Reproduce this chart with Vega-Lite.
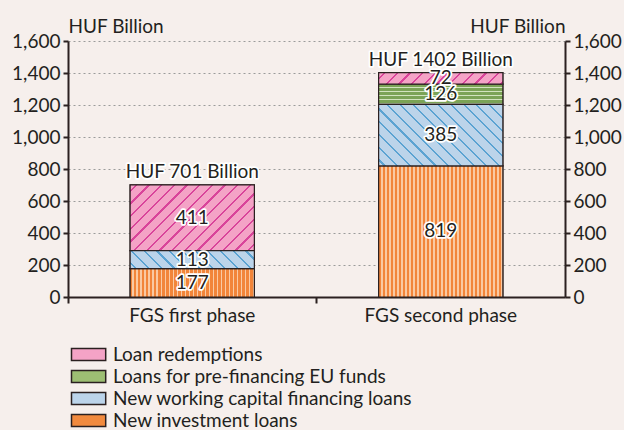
{
  "$schema": "https://vega.github.io/schema/vega-lite/v6.json",
  "width": 497,
  "height": 256,
  "autosize": "none",
  "padding": {"left": 68, "top": 41, "right": 59, "bottom": 133},
  "background": "#F6EFEC",
  "config": {
    "font": "Lato",
    "view": {"stroke": null},
    "axis": {
      "domainColor": "#2b2020",
      "domainWidth": 2,
      "tickColor": "#2b2020",
      "tickWidth": 2,
      "labelColor": "#231f20",
      "labelFontSize": 19,
      "labelFont": "Lato",
      "labelOverlap": false,
      "titleFont": "Lato",
      "titleFontSize": 19,
      "titleFontWeight": "normal",
      "titleColor": "#231f20"
    },
    "axisY": {
      "tickCount": 8,
      "format": ",d",
      "tickSize": 5,
      "labelPadding": 3,
      "labelOverlap": false,
      "titleAngle": 0,
      "titleBaseline": "bottom",
      "titleX": 0,
      "titleY": -5
    },
    "axisLeft": {
      "grid": true,
      "gridColor": "#9b9b9b",
      "gridDash": [2, 3],
      "gridWidth": 1,
      "titleAlign": "left"
    },
    "axisRight": {
      "grid": false,
      "titleAlign": "right"
    }
  },
  "datasets": {
    "segments": [
      {"phase": "FGS first phase", "category": "New investment loans", "value": 177, "order": 1},
      {"phase": "FGS first phase", "category": "New working capital financing loans", "value": 113, "order": 2},
      {"phase": "FGS first phase", "category": "Loan redemptions", "value": 411, "order": 4},
      {"phase": "FGS second phase", "category": "New investment loans", "value": 819, "order": 1},
      {"phase": "FGS second phase", "category": "New working capital financing loans", "value": 385, "order": 2},
      {"phase": "FGS second phase", "category": "Loans for pre-financing EU funds", "value": 126, "order": 3},
      {"phase": "FGS second phase", "category": "Loan redemptions", "value": 72, "order": 4}
    ],
    "totals": [
      {"phase": "FGS first phase", "total": 701, "label": "HUF 701 Billion"},
      {"phase": "FGS second phase", "total": 1402, "label": "HUF 1402 Billion"}
    ]
  },
  "layer": [
    {
      "data": {"name": "segments"},
      "transform": [
        {"stack": "value", "groupby": ["phase"], "sort": [{"field": "order"}], "as": ["v0", "v1"]},
        {"calculate": "(datum.v0 + datum.v1) / 2", "as": "mid"}
      ],
      "encoding": {
        "x": {
          "field": "phase",
          "type": "nominal",
          "scale": {"paddingInner": 0.5, "paddingOuter": 0.25},
          "axis": {
            "title": null,
            "labelAngle": 0,
            "bandPosition": -0.5,
            "tickSize": 6,
            "labelPadding": 3,
            "grid": false
          }
        }
      },
      "layer": [
        {
          "mark": {"type": "bar", "stroke": "#2b2020", "strokeWidth": 1.2},
          "encoding": {
            "y": {
              "field": "v0",
              "type": "quantitative",
              "scale": {"domain": [0, 1600], "nice": false},
              "axis": {"orient": "left", "title": "HUF Billion"}
            },
            "y2": {"field": "v1"},
            "color": {
              "field": "category",
              "type": "nominal",
              "scale": {
                "domain": ["Loan redemptions", "Loans for pre-financing EU funds", "New working capital financing loans", "New investment loans"],
                "range": ["#F4A3C6", "#9DBE73", "#BCD4EA", "#F28A3E"]
              },
              "legend": {
                "orient": "none",
                "legendX": 0,
                "legendY": 304,
                "title": null,
                "padding": 0,
                "symbolType": "M-1,-1H4.7V1H-1Z",
                "symbolSize": 144,
                "symbolStrokeColor": "#2b2020",
                "symbolStrokeWidth": 1.5,
                "symbolOpacity": 1,
                "labelFontSize": 19,
                "labelFont": "Lato",
                "labelColor": "#231f20",
                "labelOffset": 26,
                "rowPadding": 2,
                "labelLimit": 450
              }
            }
          }
        },
        {
          "transform": [{"filter": "datum.category === 'New investment loans'"}],
          "mark": {"type": "bar", "stroke": "#2b2020", "strokeWidth": 1.2, "fill": {"gradient": "linear", "x1": 0, "y1": 0, "x2": 1, "y2": 0, "stops": [
            {"offset": 0, "color": "#F2853A"}, {"offset": 0.0187, "color": "#F2853A"}, {"offset": 0.0187, "color": "#FAC9A2"}, {"offset": 0.0323, "color": "#FAC9A2"},
            {"offset": 0.0323, "color": "#F2853A"}, {"offset": 0.0510, "color": "#F2853A"}, {"offset": 0.0510, "color": "#FAC9A2"}, {"offset": 0.0645, "color": "#FAC9A2"},
            {"offset": 0.0645, "color": "#F2853A"}, {"offset": 0.0832, "color": "#F2853A"}, {"offset": 0.0832, "color": "#FAC9A2"}, {"offset": 0.0968, "color": "#FAC9A2"},
            {"offset": 0.0968, "color": "#F2853A"}, {"offset": 0.1155, "color": "#F2853A"}, {"offset": 0.1155, "color": "#FAC9A2"}, {"offset": 0.1290, "color": "#FAC9A2"},
            {"offset": 0.1290, "color": "#F2853A"}, {"offset": 0.1477, "color": "#F2853A"}, {"offset": 0.1477, "color": "#FAC9A2"}, {"offset": 0.1613, "color": "#FAC9A2"},
            {"offset": 0.1613, "color": "#F2853A"}, {"offset": 0.1800, "color": "#F2853A"}, {"offset": 0.1800, "color": "#FAC9A2"}, {"offset": 0.1935, "color": "#FAC9A2"},
            {"offset": 0.1935, "color": "#F2853A"}, {"offset": 0.2122, "color": "#F2853A"}, {"offset": 0.2122, "color": "#FAC9A2"}, {"offset": 0.2258, "color": "#FAC9A2"},
            {"offset": 0.2258, "color": "#F2853A"}, {"offset": 0.2445, "color": "#F2853A"}, {"offset": 0.2445, "color": "#FAC9A2"}, {"offset": 0.2581, "color": "#FAC9A2"},
            {"offset": 0.2581, "color": "#F2853A"}, {"offset": 0.2768, "color": "#F2853A"}, {"offset": 0.2768, "color": "#FAC9A2"}, {"offset": 0.2903, "color": "#FAC9A2"},
            {"offset": 0.2903, "color": "#F2853A"}, {"offset": 0.3090, "color": "#F2853A"}, {"offset": 0.3090, "color": "#FAC9A2"}, {"offset": 0.3226, "color": "#FAC9A2"},
            {"offset": 0.3226, "color": "#F2853A"}, {"offset": 0.3413, "color": "#F2853A"}, {"offset": 0.3413, "color": "#FAC9A2"}, {"offset": 0.3548, "color": "#FAC9A2"},
            {"offset": 0.3548, "color": "#F2853A"}, {"offset": 0.3735, "color": "#F2853A"}, {"offset": 0.3735, "color": "#FAC9A2"}, {"offset": 0.3871, "color": "#FAC9A2"},
            {"offset": 0.3871, "color": "#F2853A"}, {"offset": 0.4058, "color": "#F2853A"}, {"offset": 0.4058, "color": "#FAC9A2"}, {"offset": 0.4194, "color": "#FAC9A2"},
            {"offset": 0.4194, "color": "#F2853A"}, {"offset": 0.4381, "color": "#F2853A"}, {"offset": 0.4381, "color": "#FAC9A2"}, {"offset": 0.4516, "color": "#FAC9A2"},
            {"offset": 0.4516, "color": "#F2853A"}, {"offset": 0.4703, "color": "#F2853A"}, {"offset": 0.4703, "color": "#FAC9A2"}, {"offset": 0.4839, "color": "#FAC9A2"},
            {"offset": 0.4839, "color": "#F2853A"}, {"offset": 0.5026, "color": "#F2853A"}, {"offset": 0.5026, "color": "#FAC9A2"}, {"offset": 0.5161, "color": "#FAC9A2"},
            {"offset": 0.5161, "color": "#F2853A"}, {"offset": 0.5348, "color": "#F2853A"}, {"offset": 0.5348, "color": "#FAC9A2"}, {"offset": 0.5484, "color": "#FAC9A2"},
            {"offset": 0.5484, "color": "#F2853A"}, {"offset": 0.5671, "color": "#F2853A"}, {"offset": 0.5671, "color": "#FAC9A2"}, {"offset": 0.5806, "color": "#FAC9A2"},
            {"offset": 0.5806, "color": "#F2853A"}, {"offset": 0.5993, "color": "#F2853A"}, {"offset": 0.5993, "color": "#FAC9A2"}, {"offset": 0.6129, "color": "#FAC9A2"},
            {"offset": 0.6129, "color": "#F2853A"}, {"offset": 0.6316, "color": "#F2853A"}, {"offset": 0.6316, "color": "#FAC9A2"}, {"offset": 0.6452, "color": "#FAC9A2"},
            {"offset": 0.6452, "color": "#F2853A"}, {"offset": 0.6639, "color": "#F2853A"}, {"offset": 0.6639, "color": "#FAC9A2"}, {"offset": 0.6774, "color": "#FAC9A2"},
            {"offset": 0.6774, "color": "#F2853A"}, {"offset": 0.6961, "color": "#F2853A"}, {"offset": 0.6961, "color": "#FAC9A2"}, {"offset": 0.7097, "color": "#FAC9A2"},
            {"offset": 0.7097, "color": "#F2853A"}, {"offset": 0.7284, "color": "#F2853A"}, {"offset": 0.7284, "color": "#FAC9A2"}, {"offset": 0.7419, "color": "#FAC9A2"},
            {"offset": 0.7419, "color": "#F2853A"}, {"offset": 0.7606, "color": "#F2853A"}, {"offset": 0.7606, "color": "#FAC9A2"}, {"offset": 0.7742, "color": "#FAC9A2"},
            {"offset": 0.7742, "color": "#F2853A"}, {"offset": 0.7929, "color": "#F2853A"}, {"offset": 0.7929, "color": "#FAC9A2"}, {"offset": 0.8065, "color": "#FAC9A2"},
            {"offset": 0.8065, "color": "#F2853A"}, {"offset": 0.8252, "color": "#F2853A"}, {"offset": 0.8252, "color": "#FAC9A2"}, {"offset": 0.8387, "color": "#FAC9A2"},
            {"offset": 0.8387, "color": "#F2853A"}, {"offset": 0.8574, "color": "#F2853A"}, {"offset": 0.8574, "color": "#FAC9A2"}, {"offset": 0.8710, "color": "#FAC9A2"},
            {"offset": 0.8710, "color": "#F2853A"}, {"offset": 0.8897, "color": "#F2853A"}, {"offset": 0.8897, "color": "#FAC9A2"}, {"offset": 0.9032, "color": "#FAC9A2"},
            {"offset": 0.9032, "color": "#F2853A"}, {"offset": 0.9219, "color": "#F2853A"}, {"offset": 0.9219, "color": "#FAC9A2"}, {"offset": 0.9355, "color": "#FAC9A2"},
            {"offset": 0.9355, "color": "#F2853A"}, {"offset": 0.9542, "color": "#F2853A"}, {"offset": 0.9542, "color": "#FAC9A2"}, {"offset": 0.9677, "color": "#FAC9A2"},
            {"offset": 0.9677, "color": "#F2853A"}, {"offset": 0.9864, "color": "#F2853A"}, {"offset": 0.9864, "color": "#FAC9A2"}, {"offset": 1, "color": "#FAC9A2"}
          ]}},
          "encoding": {"y": {"field": "v0", "type": "quantitative"}, "y2": {"field": "v1"}}
        },
        {
          "transform": [{"filter": "datum.category === 'Loans for pre-financing EU funds'"}],
          "mark": {"type": "bar", "stroke": "#2b2020", "strokeWidth": 1.2, "fill": {"gradient": "linear", "x1": 0, "y1": 0, "x2": 0, "y2": 1, "stops": [
            {"offset": 0, "color": "#7BA356"}, {"offset": 0.13, "color": "#7BA356"}, {"offset": 0.13, "color": "#D2E3BE"}, {"offset": 0.2, "color": "#D2E3BE"},
            {"offset": 0.2, "color": "#7BA356"}, {"offset": 0.33, "color": "#7BA356"}, {"offset": 0.33, "color": "#D2E3BE"}, {"offset": 0.4, "color": "#D2E3BE"},
            {"offset": 0.4, "color": "#7BA356"}, {"offset": 0.53, "color": "#7BA356"}, {"offset": 0.53, "color": "#D2E3BE"}, {"offset": 0.6, "color": "#D2E3BE"},
            {"offset": 0.6, "color": "#7BA356"}, {"offset": 0.73, "color": "#7BA356"}, {"offset": 0.73, "color": "#D2E3BE"}, {"offset": 0.8, "color": "#D2E3BE"},
            {"offset": 0.8, "color": "#7BA356"}, {"offset": 0.93, "color": "#7BA356"}, {"offset": 0.93, "color": "#D2E3BE"}, {"offset": 1, "color": "#D2E3BE"}
          ]}},
          "encoding": {"y": {"field": "v0", "type": "quantitative"}, "y2": {"field": "v1"}}
        },
        {
          "transform": [{"filter": "datum.category === 'Loan redemptions' && datum.phase === 'FGS first phase'"}],
          "mark": {"type": "bar", "stroke": "#2b2020", "strokeWidth": 1.2, "fill": {"gradient": "linear", "x1": 0, "y1": 0, "x2": 1.1947, "y2": 0.6323, "stops": [
            {"offset": 0, "color": "#F4A3C6"},
            {"offset": 0.0273, "color": "#F4A3C6"}, {"offset": 0.0273, "color": "#D9449A"}, {"offset": 0.0393, "color": "#D9449A"}, {"offset": 0.0393, "color": "#F4A3C6"},
            {"offset": 0.0940, "color": "#F4A3C6"}, {"offset": 0.0940, "color": "#D9449A"}, {"offset": 0.1060, "color": "#D9449A"}, {"offset": 0.1060, "color": "#F4A3C6"},
            {"offset": 0.1607, "color": "#F4A3C6"}, {"offset": 0.1607, "color": "#D9449A"}, {"offset": 0.1727, "color": "#D9449A"}, {"offset": 0.1727, "color": "#F4A3C6"},
            {"offset": 0.2273, "color": "#F4A3C6"}, {"offset": 0.2273, "color": "#D9449A"}, {"offset": 0.2393, "color": "#D9449A"}, {"offset": 0.2393, "color": "#F4A3C6"},
            {"offset": 0.2940, "color": "#F4A3C6"}, {"offset": 0.2940, "color": "#D9449A"}, {"offset": 0.3060, "color": "#D9449A"}, {"offset": 0.3060, "color": "#F4A3C6"},
            {"offset": 0.3607, "color": "#F4A3C6"}, {"offset": 0.3607, "color": "#D9449A"}, {"offset": 0.3727, "color": "#D9449A"}, {"offset": 0.3727, "color": "#F4A3C6"},
            {"offset": 0.4273, "color": "#F4A3C6"}, {"offset": 0.4273, "color": "#D9449A"}, {"offset": 0.4393, "color": "#D9449A"}, {"offset": 0.4393, "color": "#F4A3C6"},
            {"offset": 0.4940, "color": "#F4A3C6"}, {"offset": 0.4940, "color": "#D9449A"}, {"offset": 0.5060, "color": "#D9449A"}, {"offset": 0.5060, "color": "#F4A3C6"},
            {"offset": 0.5607, "color": "#F4A3C6"}, {"offset": 0.5607, "color": "#D9449A"}, {"offset": 0.5727, "color": "#D9449A"}, {"offset": 0.5727, "color": "#F4A3C6"},
            {"offset": 0.6273, "color": "#F4A3C6"}, {"offset": 0.6273, "color": "#D9449A"}, {"offset": 0.6393, "color": "#D9449A"}, {"offset": 0.6393, "color": "#F4A3C6"},
            {"offset": 0.6940, "color": "#F4A3C6"}, {"offset": 0.6940, "color": "#D9449A"}, {"offset": 0.7060, "color": "#D9449A"}, {"offset": 0.7060, "color": "#F4A3C6"},
            {"offset": 0.7607, "color": "#F4A3C6"}, {"offset": 0.7607, "color": "#D9449A"}, {"offset": 0.7727, "color": "#D9449A"}, {"offset": 0.7727, "color": "#F4A3C6"},
            {"offset": 0.8273, "color": "#F4A3C6"}, {"offset": 0.8273, "color": "#D9449A"}, {"offset": 0.8393, "color": "#D9449A"}, {"offset": 0.8393, "color": "#F4A3C6"},
            {"offset": 0.8940, "color": "#F4A3C6"}, {"offset": 0.8940, "color": "#D9449A"}, {"offset": 0.9060, "color": "#D9449A"}, {"offset": 0.9060, "color": "#F4A3C6"},
            {"offset": 0.9607, "color": "#F4A3C6"}, {"offset": 0.9607, "color": "#D9449A"}, {"offset": 0.9727, "color": "#D9449A"}, {"offset": 0.9727, "color": "#F4A3C6"},
            {"offset": 1, "color": "#F4A3C6"}
          ]}},
          "encoding": {"y": {"field": "v0", "type": "quantitative"}, "y2": {"field": "v1"}}
        },
        {
          "transform": [{"filter": "datum.category === 'Loan redemptions' && datum.phase === 'FGS second phase'"}],
          "mark": {"type": "bar", "stroke": "#2b2020", "strokeWidth": 1.2, "fill": {"gradient": "linear", "x1": 0, "y1": 0, "x2": 1.0834, "y2": 0.1005, "stops": [
            {"offset": 0, "color": "#F4A3C6"},
            {"offset": 0.0387, "color": "#F4A3C6"}, {"offset": 0.0387, "color": "#D9449A"}, {"offset": 0.0547, "color": "#D9449A"}, {"offset": 0.0547, "color": "#F4A3C6"},
            {"offset": 0.1320, "color": "#F4A3C6"}, {"offset": 0.1320, "color": "#D9449A"}, {"offset": 0.1480, "color": "#D9449A"}, {"offset": 0.1480, "color": "#F4A3C6"},
            {"offset": 0.2253, "color": "#F4A3C6"}, {"offset": 0.2253, "color": "#D9449A"}, {"offset": 0.2413, "color": "#D9449A"}, {"offset": 0.2413, "color": "#F4A3C6"},
            {"offset": 0.3187, "color": "#F4A3C6"}, {"offset": 0.3187, "color": "#D9449A"}, {"offset": 0.3347, "color": "#D9449A"}, {"offset": 0.3347, "color": "#F4A3C6"},
            {"offset": 0.4120, "color": "#F4A3C6"}, {"offset": 0.4120, "color": "#D9449A"}, {"offset": 0.4280, "color": "#D9449A"}, {"offset": 0.4280, "color": "#F4A3C6"},
            {"offset": 0.5053, "color": "#F4A3C6"}, {"offset": 0.5053, "color": "#D9449A"}, {"offset": 0.5213, "color": "#D9449A"}, {"offset": 0.5213, "color": "#F4A3C6"},
            {"offset": 0.5987, "color": "#F4A3C6"}, {"offset": 0.5987, "color": "#D9449A"}, {"offset": 0.6147, "color": "#D9449A"}, {"offset": 0.6147, "color": "#F4A3C6"},
            {"offset": 0.6920, "color": "#F4A3C6"}, {"offset": 0.6920, "color": "#D9449A"}, {"offset": 0.7080, "color": "#D9449A"}, {"offset": 0.7080, "color": "#F4A3C6"},
            {"offset": 0.7853, "color": "#F4A3C6"}, {"offset": 0.7853, "color": "#D9449A"}, {"offset": 0.8013, "color": "#D9449A"}, {"offset": 0.8013, "color": "#F4A3C6"},
            {"offset": 0.8787, "color": "#F4A3C6"}, {"offset": 0.8787, "color": "#D9449A"}, {"offset": 0.8947, "color": "#D9449A"}, {"offset": 0.8947, "color": "#F4A3C6"},
            {"offset": 0.9720, "color": "#F4A3C6"}, {"offset": 0.9720, "color": "#D9449A"}, {"offset": 0.9880, "color": "#D9449A"}, {"offset": 0.9880, "color": "#F4A3C6"},
            {"offset": 1, "color": "#F4A3C6"}
          ]}},
          "encoding": {"y": {"field": "v0", "type": "quantitative"}, "y2": {"field": "v1"}}
        },
        {
          "transform": [{"filter": "datum.category === 'New working capital financing loans' && datum.phase === 'FGS first phase'"}],
          "mark": {"type": "bar", "stroke": "#2b2020", "strokeWidth": 1.2, "fill": {"gradient": "linear", "x1": 0, "y1": 1, "x2": 1.1218, "y2": 0.8368, "stops": [
            {"offset": 0, "color": "#BCD4EA"},
            {"offset": 0.0372, "color": "#BCD4EA"}, {"offset": 0.0372, "color": "#5BA3D2"}, {"offset": 0.0522, "color": "#5BA3D2"}, {"offset": 0.0522, "color": "#BCD4EA"},
            {"offset": 0.1266, "color": "#BCD4EA"}, {"offset": 0.1266, "color": "#5BA3D2"}, {"offset": 0.1416, "color": "#5BA3D2"}, {"offset": 0.1416, "color": "#BCD4EA"},
            {"offset": 0.2160, "color": "#BCD4EA"}, {"offset": 0.2160, "color": "#5BA3D2"}, {"offset": 0.2310, "color": "#5BA3D2"}, {"offset": 0.2310, "color": "#BCD4EA"},
            {"offset": 0.3054, "color": "#BCD4EA"}, {"offset": 0.3054, "color": "#5BA3D2"}, {"offset": 0.3204, "color": "#5BA3D2"}, {"offset": 0.3204, "color": "#BCD4EA"},
            {"offset": 0.3948, "color": "#BCD4EA"}, {"offset": 0.3948, "color": "#5BA3D2"}, {"offset": 0.4098, "color": "#5BA3D2"}, {"offset": 0.4098, "color": "#BCD4EA"},
            {"offset": 0.4842, "color": "#BCD4EA"}, {"offset": 0.4842, "color": "#5BA3D2"}, {"offset": 0.4992, "color": "#5BA3D2"}, {"offset": 0.4992, "color": "#BCD4EA"},
            {"offset": 0.5736, "color": "#BCD4EA"}, {"offset": 0.5736, "color": "#5BA3D2"}, {"offset": 0.5886, "color": "#5BA3D2"}, {"offset": 0.5886, "color": "#BCD4EA"},
            {"offset": 0.6630, "color": "#BCD4EA"}, {"offset": 0.6630, "color": "#5BA3D2"}, {"offset": 0.6780, "color": "#5BA3D2"}, {"offset": 0.6780, "color": "#BCD4EA"},
            {"offset": 0.7524, "color": "#BCD4EA"}, {"offset": 0.7524, "color": "#5BA3D2"}, {"offset": 0.7674, "color": "#5BA3D2"}, {"offset": 0.7674, "color": "#BCD4EA"},
            {"offset": 0.8418, "color": "#BCD4EA"}, {"offset": 0.8418, "color": "#5BA3D2"}, {"offset": 0.8568, "color": "#5BA3D2"}, {"offset": 0.8568, "color": "#BCD4EA"},
            {"offset": 0.9312, "color": "#BCD4EA"}, {"offset": 0.9312, "color": "#5BA3D2"}, {"offset": 0.9462, "color": "#5BA3D2"}, {"offset": 0.9462, "color": "#BCD4EA"},
            {"offset": 1, "color": "#BCD4EA"}
          ]}},
          "encoding": {"y": {"field": "v0", "type": "quantitative"}, "y2": {"field": "v1"}}
        },
        {
          "transform": [{"filter": "datum.category === 'New working capital financing loans' && datum.phase === 'FGS second phase'"}],
          "mark": {"type": "bar", "stroke": "#2b2020", "strokeWidth": 1.2, "fill": {"gradient": "linear", "x1": 0, "y1": 1, "x2": 1.2007, "y2": 0.4047, "stops": [
            {"offset": 0, "color": "#BCD4EA"},
            {"offset": 0.0285, "color": "#BCD4EA"}, {"offset": 0.0285, "color": "#5BA3D2"}, {"offset": 0.0399, "color": "#5BA3D2"}, {"offset": 0.0399, "color": "#BCD4EA"},
            {"offset": 0.0970, "color": "#BCD4EA"}, {"offset": 0.0970, "color": "#5BA3D2"}, {"offset": 0.1084, "color": "#5BA3D2"}, {"offset": 0.1084, "color": "#BCD4EA"},
            {"offset": 0.1655, "color": "#BCD4EA"}, {"offset": 0.1655, "color": "#5BA3D2"}, {"offset": 0.1769, "color": "#5BA3D2"}, {"offset": 0.1769, "color": "#BCD4EA"},
            {"offset": 0.2340, "color": "#BCD4EA"}, {"offset": 0.2340, "color": "#5BA3D2"}, {"offset": 0.2454, "color": "#5BA3D2"}, {"offset": 0.2454, "color": "#BCD4EA"},
            {"offset": 0.3025, "color": "#BCD4EA"}, {"offset": 0.3025, "color": "#5BA3D2"}, {"offset": 0.3139, "color": "#5BA3D2"}, {"offset": 0.3139, "color": "#BCD4EA"},
            {"offset": 0.3710, "color": "#BCD4EA"}, {"offset": 0.3710, "color": "#5BA3D2"}, {"offset": 0.3824, "color": "#5BA3D2"}, {"offset": 0.3824, "color": "#BCD4EA"},
            {"offset": 0.4395, "color": "#BCD4EA"}, {"offset": 0.4395, "color": "#5BA3D2"}, {"offset": 0.4509, "color": "#5BA3D2"}, {"offset": 0.4509, "color": "#BCD4EA"},
            {"offset": 0.5080, "color": "#BCD4EA"}, {"offset": 0.5080, "color": "#5BA3D2"}, {"offset": 0.5194, "color": "#5BA3D2"}, {"offset": 0.5194, "color": "#BCD4EA"},
            {"offset": 0.5765, "color": "#BCD4EA"}, {"offset": 0.5765, "color": "#5BA3D2"}, {"offset": 0.5879, "color": "#5BA3D2"}, {"offset": 0.5879, "color": "#BCD4EA"},
            {"offset": 0.6450, "color": "#BCD4EA"}, {"offset": 0.6450, "color": "#5BA3D2"}, {"offset": 0.6564, "color": "#5BA3D2"}, {"offset": 0.6564, "color": "#BCD4EA"},
            {"offset": 0.7135, "color": "#BCD4EA"}, {"offset": 0.7135, "color": "#5BA3D2"}, {"offset": 0.7249, "color": "#5BA3D2"}, {"offset": 0.7249, "color": "#BCD4EA"},
            {"offset": 0.7820, "color": "#BCD4EA"}, {"offset": 0.7820, "color": "#5BA3D2"}, {"offset": 0.7934, "color": "#5BA3D2"}, {"offset": 0.7934, "color": "#BCD4EA"},
            {"offset": 0.8505, "color": "#BCD4EA"}, {"offset": 0.8505, "color": "#5BA3D2"}, {"offset": 0.8619, "color": "#5BA3D2"}, {"offset": 0.8619, "color": "#BCD4EA"},
            {"offset": 0.9190, "color": "#BCD4EA"}, {"offset": 0.9190, "color": "#5BA3D2"}, {"offset": 0.9304, "color": "#5BA3D2"}, {"offset": 0.9304, "color": "#BCD4EA"},
            {"offset": 1, "color": "#BCD4EA"}
          ]}},
          "encoding": {"y": {"field": "v0", "type": "quantitative"}, "y2": {"field": "v1"}}
        },
        {
          "mark": {"type": "text", "fontSize": 19, "stroke": "white", "strokeWidth": 3.5, "strokeJoin": "round", "fill": "white"},
          "encoding": {
            "y": {"field": "mid", "type": "quantitative"},
            "text": {"field": "value", "type": "quantitative"}
          }
        },
        {
          "mark": {"type": "text", "fontSize": 19, "fill": "#231f20"},
          "encoding": {
            "y": {"field": "mid", "type": "quantitative"},
            "text": {"field": "value", "type": "quantitative"}
          }
        }
      ]
    },
    {
      "data": {"name": "totals"},
      "encoding": {
        "x": {"field": "phase", "type": "nominal"},
        "y": {
          "field": "total",
          "type": "quantitative",
          "axis": {"orient": "right", "title": "HUF Billion"}
        },
        "text": {"field": "label"}
      },
      "layer": [
        {
          "mark": {"type": "text", "fontSize": 19, "baseline": "bottom", "dy": -3, "fill": "white", "stroke": "white", "strokeWidth": 3.5, "strokeJoin": "round"}
        },
        {
          "mark": {"type": "text", "fontSize": 19, "baseline": "bottom", "dy": -3, "fill": "#231f20"}
        }
      ]
    }
  ],
  "resolve": {"axis": {"y": "independent"}}
}
